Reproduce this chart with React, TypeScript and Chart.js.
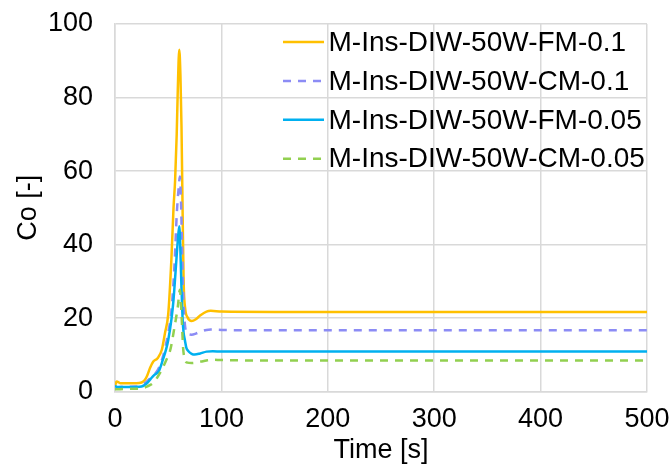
import React, { useEffect, useRef } from "react";
import { Chart, registerables } from "chart.js";

Chart.register(...registerables);

const FONT = '"Liberation Sans", Arial, Helvetica, sans-serif';

const seriesLabels = [
  "M-Ins-DIW-50W-FM-0.1",
  "M-Ins-DIW-50W-CM-0.1",
  "M-Ins-DIW-50W-FM-0.05",
  "M-Ins-DIW-50W-CM-0.05",
];
const seriesColors = ["#FFC000", "#8C8CF5", "#00B0F0", "#92D050"];
const seriesDashed = [false, true, false, true];

const fm01Time = [0, 1.5, 5, 10, 15, 20, 25, 28, 30, 33, 36, 40, 44, 47, 50, 53, 55, 56.5, 58, 59, 60.4, 61.5, 62.5, 63.5, 64.5, 66, 68, 72, 76, 80, 86, 90, 100, 150, 200, 300, 400, 500];
const fm01Co = [1.5, 2.8, 2.3, 2.3, 2.3, 2.3, 2.5, 3.2, 4.2, 6.5, 8.2, 9.1, 11.4, 16, 21, 36, 50, 57.5, 70, 82, 93, 86, 72, 50, 30, 22.5, 20.3, 19.2, 19.7, 20.7, 21.8, 22, 21.8, 21.7, 21.7, 21.7, 21.7, 21.7];

const cm01Time = [0, 5, 20, 25, 30, 35, 40, 45, 50, 53, 56, 58, 60, 61, 62, 63, 64, 65, 66, 68, 72, 76, 80, 86, 90, 100, 150, 300, 500];
const cm01Co = [0.8, 1.3, 1.4, 1.8, 2.8, 4.2, 5.8, 9.5, 16, 22, 35, 48, 56, 58.5, 52, 40, 28, 21, 17.5, 15.8, 15.5, 15.8, 16.3, 16.8, 16.9, 16.8, 16.7, 16.7, 16.7];

const fm005Time = [0, 2, 10, 20, 25, 30, 33, 37, 41, 45, 48, 50, 53, 55, 57, 59, 60.4, 61.5, 62.5, 63.5, 64.5, 65.7, 67, 69, 72, 75, 80, 86, 92, 100, 150, 300, 500];
const fm005Co = [1.6, 1.3, 1.3, 1.3, 1.4, 2.3, 3.3, 4.6, 5.5, 8.7, 11.5, 14, 19.6, 25, 33, 41, 45, 38, 28, 20, 16, 14, 12, 11, 10.3, 10.1, 10.4, 10.9, 11, 10.9, 10.9, 10.9, 10.9];

const cm005Time = [0, 5, 15, 25, 30, 36, 40, 44, 48, 52, 56, 59, 61, 62, 63, 64, 65.7, 68, 72, 76, 81, 86, 92, 100, 150, 300, 500];
const cm005Co = [0.7, 0.7, 0.8, 0.9, 1.4, 2.4, 4, 6, 8.5, 11.4, 17.7, 23, 27.7, 24, 18, 12, 8.7, 7.9, 7.8, 7.9, 8.2, 8.5, 8.7, 8.6, 8.5, 8.5, 8.5];

const seriesTimes = [fm01Time, cm01Time, fm005Time, cm005Time];
const seriesValues = [fm01Co, cm01Co, fm005Co, cm005Co];

const xMin = 0, xMax = 500, xStep = 100;
const yMin = 0, yMax = 100, yStep = 20;

const insideLegend = {
  id: "insideLegend",
  afterDraw(chart: any) {
    const ctx = chart.ctx;
    const area = chart.chartArea;
    ctx.save();
    ctx.font = `28px ${FONT}`;
    ctx.textBaseline = "middle";
    ctx.textAlign = "left";
    chart.data.datasets.forEach((ds: any, i: number) => {
      const y = area.top + 18 + i * 38.9;
      const x0 = area.left + 168;
      ctx.strokeStyle = ds.borderColor;
      ctx.lineWidth = 2.5;
      ctx.setLineDash(ds.borderDash || []);
      ctx.beginPath();
      ctx.moveTo(x0, y);
      ctx.lineTo(x0 + 41, y);
      ctx.stroke();
      ctx.setLineDash([]);
      ctx.fillStyle = "#000";
      ctx.fillText(ds.label, x0 + 45.5, y + 1);
    });
    ctx.restore();
  },
};

export default function App() {
  const ref = useRef<HTMLCanvasElement>(null);
  useEffect(() => {
    const canvas = ref.current!;
    const datasets = seriesLabels.map((label, i) => ({
      label,
      data: seriesTimes[i].map((t, j) => ({ x: t, y: seriesValues[i][j] })),
      borderColor: seriesColors[i],
      backgroundColor: seriesColors[i],
      borderWidth: 2.5,
      borderDash: seriesDashed[i] ? [8, 7] : [],
      pointRadius: 0,
      cubicInterpolationMode: "monotone" as const,
      fill: false,
      order: seriesLabels.length - 1 - i,
    }));
    const chart = new Chart(canvas, {
      type: "line",
      data: { datasets },
      options: {
        animation: false,
        responsive: false,
        devicePixelRatio: 1,
        layout: { padding: { top: 24, right: 24, left: 0, bottom: 0 } },
        plugins: { legend: { display: false }, tooltip: { enabled: false } },
        scales: {
          x: {
            type: "linear",
            min: xMin,
            max: xMax,
            afterFit: (s: any) => { s.height = 75.3; },
            ticks: { stepSize: xStep, color: "#000", font: { family: FONT, size: 27 }, padding: 0, maxRotation: 0 },
            grid: { color: "#d9d9d9", lineWidth: 1.5, drawTicks: true, tickLength: 12, tickColor: "rgba(0,0,0,0)" },
            border: { color: "#d9d9d9", width: 1.5 },
            title: { display: true, text: "Time [s]", color: "#000", font: { family: FONT, size: 27 }, padding: { top: 0, bottom: 0 } },
          },
          y: {
            type: "linear",
            min: yMin,
            max: yMax,
            afterFit: (s: any) => { s.width = 115; },
            ticks: { stepSize: yStep, color: "#000", font: { family: FONT, size: 27 }, padding: 0 },
            grid: { color: "#d9d9d9", lineWidth: 1.5, drawTicks: true, tickLength: 22, tickColor: "rgba(0,0,0,0)" },
            border: { color: "#d9d9d9", width: 1.5 },
            title: { display: true, text: "Co [-]", color: "#000", font: { family: FONT, size: 27 }, padding: { top: 12, bottom: 0 } },
          },
        },
      },
      plugins: [insideLegend],
    });
    return () => chart.destroy();
  }, []);
  return (
    <div style={{ position: "fixed", left: 0, top: 0, width: 671, height: 467, background: "#fff" }}>
      <canvas ref={ref} width={671} height={467} />
    </div>
  );
}
